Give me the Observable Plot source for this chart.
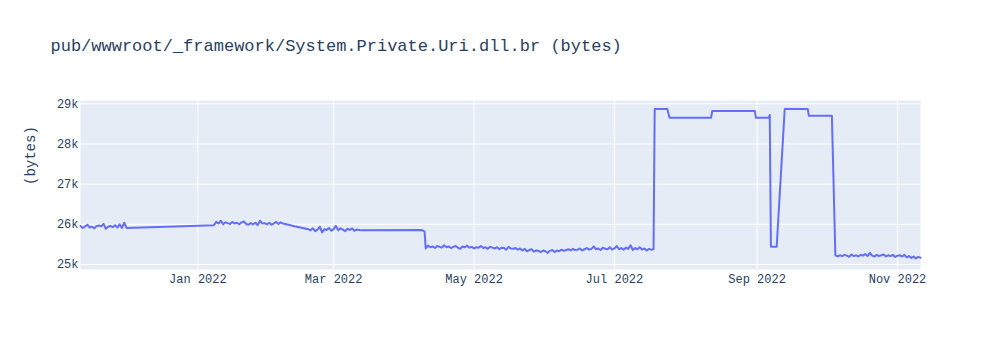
<!DOCTYPE html>
<html>
<head>
<meta charset="utf-8">
<script src="https://cdn.jsdelivr.net/npm/d3@7"></script>
<script src="https://cdn.jsdelivr.net/npm/@observablehq/plot@0.6"></script>
<style>
  html, body { margin: 0; padding: 0; background: white; }
  #chart { width: 1000px; height: 350px; }
</style>
</head>
<body>
<div id="chart"></div>
<script>
// ---- Data ----
const titleText = "pub/wwwroot/_framework/System.Private.Uri.dll.br (bytes)";
const yLabel = "(bytes)";
const yTicks = [25000, 26000, 27000, 28000, 29000];
const xTicks = ["2022-01-01", "2022-03-01", "2022-05-01", "2022-07-01", "2022-09-01", "2022-11-01"];

// Daily noisy segments: start date + one value per day
const segA = { start: "2021-11-11", values: [25960, 25910, 25950, 25990, 25920, 25940, 25900, 25960, 25970, 25950, 26010, 25890, 25940, 25960, 25930, 25980, 25920, 26000, 25910, 26040, 25910] };
const segB = { start: "2022-01-08", values: [25980, 26060, 26020, 26090, 26000, 26050, 26030, 26010, 26060, 26020, 26040, 26000, 26050, 26070, 26010, 25990, 26030, 26000, 26040, 25980, 26090, 26020, 26030, 26000, 26040, 25990, 26020, 26060, 26010, 26050, 26020] };
const segC = { start: "2022-02-18", values: [25880, 25850, 25900, 25830, 25870, 25940, 25800, 25880, 25860, 25910, 25840, 25880, 25960, 25850, 25900, 25870, 25830, 25890, 25860, 25900, 25840, 25870, 25860, 25850] };
const segD = { start: "2022-04-10", values: [
  25400, 25470, 25430, 25450, 25410, 25460, 25440, 25420, 25480, 25430,
  25450, 25410, 25440, 25460, 25420, 25390, 25450, 25430, 25470, 25420,
  25440, 25400, 25430, 25420, 25460, 25410, 25430, 25390, 25440, 25420,
  25400, 25430, 25380, 25420, 25410, 25370, 25440, 25400, 25390, 25410,
  25370, 25400, 25350, 25390, 25330, 25360, 25380, 25320, 25350, 25340,
  25310, 25350, 25330, 25290, 25340, 25360, 25310, 25350, 25330, 25370,
  25340, 25360, 25380, 25350, 25390, 25360, 25370, 25400, 25350, 25380,
  25410, 25370, 25390, 25450, 25380, 25400, 25360, 25420, 25390, 25380,
  25430, 25370, 25400, 25460, 25380, 25410, 25370, 25420, 25390, 25480,
  25360, 25410, 25380, 25430, 25370, 25400, 25350, 25390, 25370, 25380] };
const segE = { start: "2022-10-05", values: [
  25230, 25200, 25230, 25210, 25240, 25220, 25190, 25250, 25210, 25230, 25200,
  25240, 25220, 25260, 25210, 25290, 25220, 25200, 25240, 25210, 25230,
  25250, 25200, 25230, 25210, 25240, 25190, 25220, 25230, 25200, 25240,
  25180, 25210, 25160, 25200, 25150, 25190, 25170] };

// Individual points (steps and plateaus)
const stepDates = [
  "2022-02-12", "2022-04-08", "2022-04-09", "2022-04-09T12:00",
  "2022-07-18T12:00", "2022-07-24", "2022-07-24T12:00", "2022-07-25",
  "2022-08-12", "2022-08-12T12:00", "2022-08-31", "2022-08-31T12:00",
  "2022-09-06", "2022-09-06T12:00", "2022-09-07", "2022-09-09T12:00",
  "2022-09-13", "2022-09-23", "2022-09-23T12:00", "2022-10-03T12:00"
];
const stepValues = [
  25950, 25860, 25840, 25820,
  28870, 28870, 28750, 28650,
  28650, 28820, 28820, 28650,
  28650, 28720, 25440, 25440,
  28870, 28870, 28700, 28700
];

// ---- Build table ----
const day = 86400000;
const rows = [];
for (const seg of [segA, segB, segC, segD, segE]) {
  const t0 = new Date(seg.start + "T00:00:00Z").getTime();
  seg.values.forEach((v, i) => rows.push({ date: new Date(t0 + i * day), bytes: v }));
}
stepDates.forEach((d, i) => rows.push({ date: new Date(d + (d.includes("T") ? "Z" : "T00:00:00Z")), bytes: stepValues[i] }));
rows.sort((a, b) => a.date - b.date);

const xTickDates = xTicks.map(d => new Date(d + "T00:00:00Z"));
const fmtX = d3.utcFormat("%b %Y");
const fontFam = "'Liberation Mono', 'Courier New', monospace";
const textColor = "#2a3f5f";

const chart = Plot.plot({
  width: 1000,
  height: 350,
  marginLeft: 80,
  marginRight: 80,
  marginTop: 100,
  marginBottom: 81,
  style: { fontFamily: fontFam, fontSize: "12px", color: textColor, background: "white", overflow: "visible" },
  x: { type: "utc", domain: [new Date("2021-11-11T00:00:00Z"), new Date("2022-11-11T00:00:00Z")] },
  y: { domain: [24876, 29082] },
  marks: [
    Plot.frame({ fill: "#E5ECF6", stroke: null }),
    Plot.gridX(xTickDates, { stroke: "white", strokeOpacity: 1, strokeWidth: 1 }),
    Plot.gridY(yTicks, { stroke: "white", strokeOpacity: 1, strokeWidth: 1 }),
    Plot.axisY(yTicks, { tickSize: 0, tickPadding: 2, tickFormat: d => (d / 1000) + "k", label: null, fontSize: 12 }),
    Plot.axisX(xTickDates, { tickSize: 0, tickPadding: 5, tickFormat: fmtX, label: null, fontSize: 12 }),
    Plot.line(rows, { x: "date", y: "bytes", stroke: "#636efa", strokeWidth: 2, strokeLinejoin: "round" }),
    Plot.text([yLabel], { frameAnchor: "left", dx: -50, rotate: -90, text: d => d, fontSize: 14, fill: textColor }),
    Plot.text([titleText], { frameAnchor: "top-left", dx: -30, dy: -62, text: d => d, textAnchor: "start", fontSize: 17, fill: textColor })
  ]
});
document.getElementById("chart").appendChild(chart);
</script>
</body>
</html>
